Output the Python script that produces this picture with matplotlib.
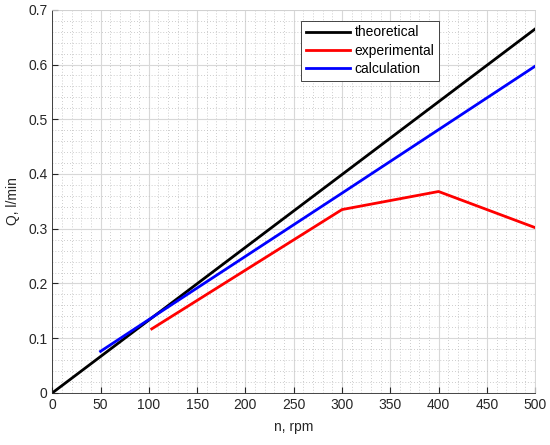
import matplotlib
matplotlib.use('Agg')
import matplotlib.pyplot as plt
from matplotlib.ticker import MultipleLocator, FuncFormatter

plt.rcParams['font.family'] = ['Liberation Sans', 'DejaVu Sans']

theory_n = [0, 500]
theory_q = [0, 0.665]
exp_n = [103, 300, 400, 500]
exp_q = [0.117, 0.335, 0.368, 0.302]
calc_n = [50, 100, 300, 400, 500]
calc_q = [0.076, 0.134, 0.365, 0.481, 0.597]

fig = plt.figure(figsize=(5.5, 4.45), dpi=100)
ax = fig.add_axes([0.095, 0.117, 0.878, 0.861])

ax.plot(theory_n, theory_q, color='black', lw=2, label='theoretical')
ax.plot(exp_n, exp_q, color='red', lw=2, label='experimental')
ax.plot(calc_n, calc_q, color='blue', lw=2, label='calculation')

ax.set_xlim(0, 500)
ax.set_ylim(0, 0.7)
ax.xaxis.set_major_locator(MultipleLocator(50))
ax.yaxis.set_major_locator(MultipleLocator(0.1))
ax.xaxis.set_minor_locator(MultipleLocator(10))
ax.yaxis.set_minor_locator(MultipleLocator(0.02))
ax.yaxis.set_major_formatter(FuncFormatter(lambda v, p: '0' if abs(v) < 1e-9 else '%g' % round(v, 2)))
ax.grid(which='major', color='#d8d8d8', lw=0.8)
ax.grid(which='minor', color='#bcbcbc', lw=0.6, ls=(0, (1, 2.5)))
ax.set_axisbelow(True)
ax.tick_params(which='both', direction='in', labelsize=10, colors='#262626')
ax.tick_params(which='minor', length=0)
ax.tick_params(which='major', length=4, top=False, right=False)
for s in ax.spines.values():
    s.set_color('#262626')
    s.set_linewidth(0.6)
ax.spines['top'].set_color('#d0d0d0')
ax.spines['right'].set_color('#d0d0d0')

ax.set_xlabel('n, rpm', fontsize=10, color='#262626', labelpad=6)
ax.set_ylabel('Q, l/min', fontsize=10, color='#262626', labelpad=6)

leg = ax.legend(loc='upper left', bbox_to_anchor=(0.515, 0.972), fontsize=10,
                fancybox=False, framealpha=1, edgecolor='#262626',
                borderpad=0.35, labelspacing=0.3, handlelength=3.2,
                handletextpad=0.3, borderaxespad=0)
leg.get_frame().set_linewidth(0.6)

fig.savefig('out.png', dpi=100)
